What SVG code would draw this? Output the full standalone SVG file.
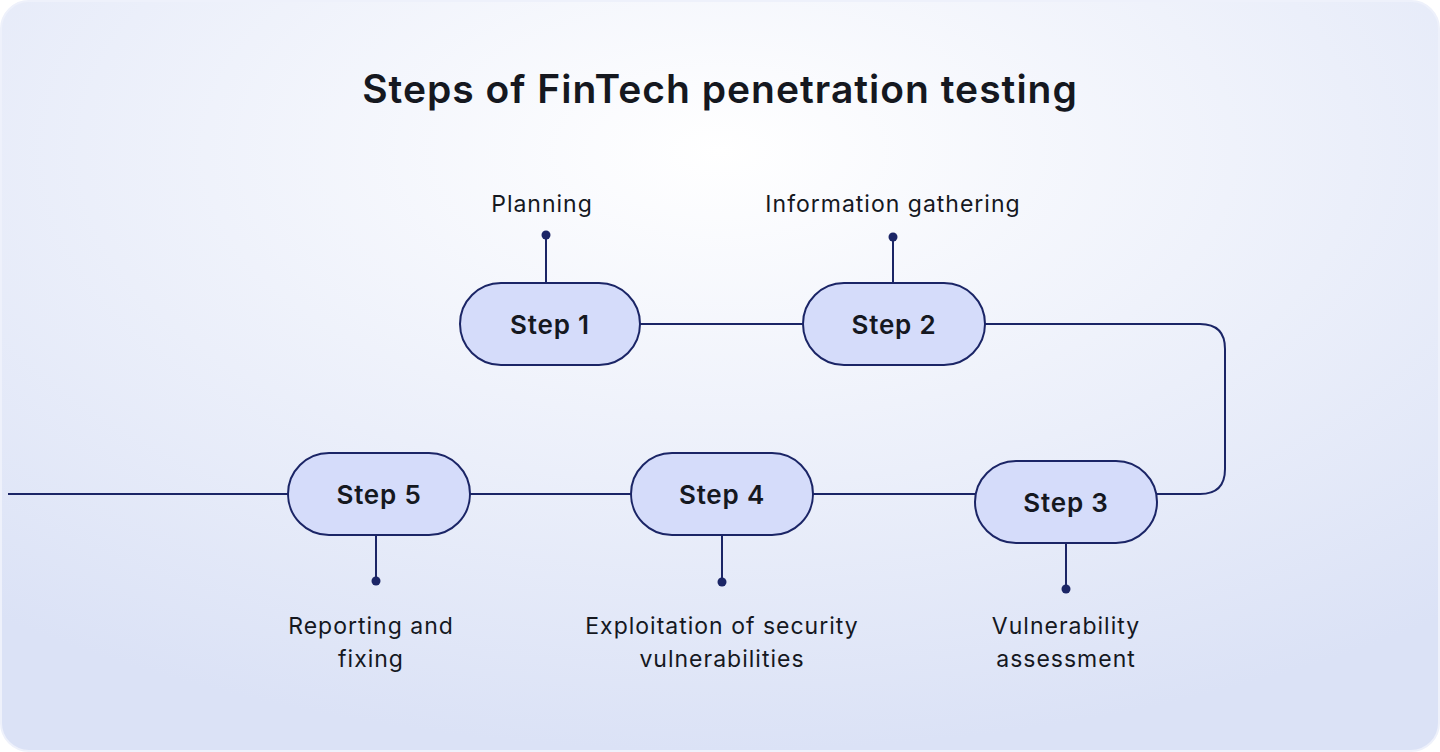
<svg xmlns="http://www.w3.org/2000/svg" width="1440" height="752" viewBox="0 0 1440 752">
<defs>
<radialGradient id="bg" cx="50%" cy="20%" r="80%">
<stop offset="0" stop-color="#ffffff"/>
<stop offset="1" stop-color="#dbe2f6"/>
</radialGradient>
</defs>
<style>
.pill{fill:#d5dcfa;stroke:#1b2566;stroke-width:2}
.st{font-family:Inter,"Liberation Sans",sans-serif;font-weight:600;font-size:26px;letter-spacing:0.8px;fill:#15181f;text-anchor:middle}
.lb{font-family:Inter,"Liberation Sans",sans-serif;font-size:23px;letter-spacing:1px;fill:#15181f;text-anchor:middle}
.ln{fill:none;stroke:#1b2566;stroke-width:2}
.dot{fill:#1b2566}
</style>
<rect x="1" y="1" width="1438" height="750" rx="28" fill="url(#bg)" stroke="#eef1fb" stroke-width="2"/>
<text x="720" y="103" font-family="Inter,'Liberation Sans',sans-serif" font-weight="600" font-size="39" letter-spacing="1" fill="#15181f" text-anchor="middle">Steps of FinTech penetration testing</text>
<g id="connectors">
<path class="ln" d="M640 324H803M985 324H1200Q1225 324 1225 349V469Q1225 494 1200 494H1157M975 494H813M631 494H470M288 494H8"/>
<path class="ln" d="M546 235V283M893 235V283M376 535V581M722 535V582M1066 543V589"/>
<circle class="dot" cx="546" cy="235" r="4.5"/><circle class="dot" cx="893" cy="237" r="4.5"/>
<circle class="dot" cx="376" cy="581" r="4.5"/><circle class="dot" cx="722" cy="582" r="4.5"/><circle class="dot" cx="1066" cy="589" r="4.5"/>
</g>
<g id="step1"><rect class="pill" x="460" y="283" width="180" height="82" rx="41"/><text class="st" x="550" y="334">Step 1</text><text class="lb" x="542" y="212">Planning</text></g>
<g id="step2"><rect class="pill" x="803" y="283" width="182" height="82" rx="41"/><text class="st" x="894" y="334">Step 2</text><text class="lb" x="893" y="212">Information gathering</text></g>
<g id="step3"><rect class="pill" x="975" y="461" width="182" height="82" rx="41"/><text class="st" x="1066" y="512">Step 3</text><text class="lb" x="1066" y="634">Vulnerability</text><text class="lb" x="1066" y="667">assessment</text></g>
<g id="step4"><rect class="pill" x="631" y="453" width="182" height="82" rx="41"/><text class="st" x="722" y="504">Step 4</text><text class="lb" x="722" y="634">Exploitation of security</text><text class="lb" x="722" y="667">vulnerabilities</text></g>
<g id="step5"><rect class="pill" x="288" y="453" width="182" height="82" rx="41"/><text class="st" x="379" y="504">Step 5</text><text class="lb" x="371" y="634">Reporting and</text><text class="lb" x="371" y="667">fixing</text></g>
</svg>
